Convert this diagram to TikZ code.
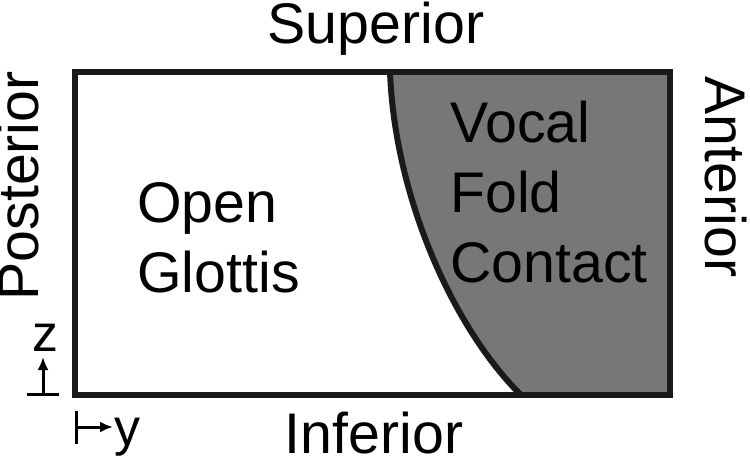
\documentclass[tikz,border=0pt]{standalone}
\usepackage{fontspec}
\setmainfont{Liberation Sans}
\usepackage{tikz}
\usetikzlibrary{arrows.meta, positioning}
\definecolor{contactgray}{RGB}{119,119,119}
\definecolor{edgeblack}{RGB}{26,26,26}

\begin{document}
\begin{tikzpicture}[x=0.02cm, y=-0.02cm,
label/.style={inner sep=0pt, font=\fontsize{32.6pt}{39.7pt}\selectfont},
axis/.style={line width=0.06cm, {Bar[width=0.66cm]}-{Latex[length=0.26cm, width=0.22cm]}},
axislabel/.style={inner sep=0pt, font=\fontsize{29.5pt}{35pt}\selectfont}
]
    \useasboundingbox (0, 0) rectangle (750, 458);

    % Contact region
    \fill [contactgray] (390, 72) -- (670, 72) -- (670, 395) -- (521, 395)
        .. controls (455, 330) and (395, 200) .. (390, 72) -- cycle;
    \draw [edgeblack, line width=0.12cm] (521, 395) .. controls (455, 330) and (395, 200) .. (390, 72);

    % Glottis outline
    \draw [edgeblack, line width=0.12cm] (75, 72) rectangle (670, 395);

    % Labels
    \node (sup) at (376, 43) [label, anchor=base] {Superior};
    \node (inf) at (374, 453) [label, anchor=base] {Inferior};
    \node (post) at (38, 186) [label, rotate=90, anchor=base] {Posterior};
    \node (ant) at (705, 177) [label, rotate=-90, anchor=base] {Anterior};
    \node (open) at (137, 292) [label, anchor=base west, align=left] {Open\\Glottis};
    \node (contact) at (450, 282) [label, anchor=base west, align=left] {Vocal\\Fold\\Contact};

    % Axes
    \coordinate (z0) at (43, 396);
    \coordinate (z1) at (43, 357);
    \draw [axis] (z0) -- (z1);
    \node (zlab) at (45, 351) [axislabel, anchor=base] {z};
    \coordinate (y0) at (75, 427);
    \coordinate (y1) at (113, 427);
    \draw [axis] (y0) -- (y1);
    \node (ylab) at (114, 445) [axislabel, anchor=base west] {y};
\end{tikzpicture}
\end{document}
